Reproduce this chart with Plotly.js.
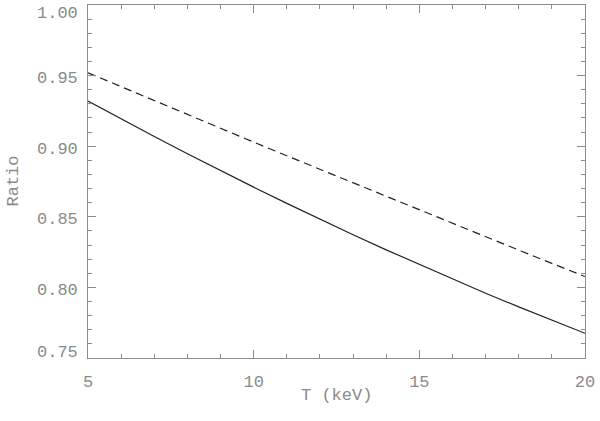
<!DOCTYPE html>
<html>
<head>
<meta charset="utf-8">
<script src="https://cdn.plot.ly/plotly-3.0.1.min.js"></script>
<style>
  html, body { margin: 0; padding: 0; background: #fff; }
  #plot { width: 600px; height: 421px; }
</style>
</head>
<body>
<div id="plot"></div>
<script>
// temperature grid (keV)
const T = [5, 6, 7, 8, 9, 10, 11, 12, 13, 14, 15, 16, 17, 18, 19, 20];

// solid curve
const ratioSolid = [0.932, 0.9193, 0.9069, 0.8947, 0.8827, 0.8710, 0.8595, 0.8483,
                    0.8373, 0.8266, 0.8162, 0.8059, 0.7959, 0.7862, 0.7767, 0.7675];

// dashed curve
const ratioDashed = [0.952, 0.9421, 0.9322, 0.9224, 0.9127, 0.9029, 0.8932, 0.8836,
                     0.8739, 0.8643, 0.8548, 0.8453, 0.8358, 0.8264, 0.8170, 0.8077];

const yTicks = [0.75, 0.80, 0.85, 0.90, 0.95, 1.00];
const yTickText = ['0.75', '0.80', '0.85', '0.90', '0.95', '1.00'];
const xTicks = [5, 10, 15, 20];
const xTickText = ['5', '10', '15', '20'];

const axisCol = '#8c8c8c';
const textCol = '#8a8a8a';
const tickFont = { family: 'Liberation Mono, DejaVu Sans Mono, monospace', size: 17, color: textCol };

const traces = [
  {
    x: T, y: ratioSolid,
    mode: 'lines',
    line: { color: '#222', width: 1.2 },
    hoverinfo: 'skip'
  },
  {
    x: T, y: ratioDashed,
    mode: 'lines',
    line: { color: '#222', width: 1.2, dash: '8px,5px' },
    hoverinfo: 'skip'
  }
];

// IDL-style y labels: sit a little below the tick, end labels pulled inward
const yLabels = yTicks.map((v, i) => {
  let shift = -3;
  if (i === 0) shift = 6;
  if (i === yTicks.length - 1) shift = -8;
  return {
    text: yTickText[i],
    xref: 'paper', yref: 'y',
    x: 0, y: v,
    xanchor: 'right', yanchor: 'middle',
    xshift: -8, yshift: shift,
    showarrow: false,
    font: tickFont
  };
});

const layout = {
  width: 600,
  height: 421,
  margin: { l: 88, r: 15, t: 5, b: 63 },
  paper_bgcolor: '#fff',
  plot_bgcolor: '#fff',
  showlegend: false,
  xaxis: {
    range: [5, 20],
    tickvals: xTicks,
    ticktext: xTickText,
    ticks: 'inside',
    ticklen: 8,
    tickcolor: axisCol,
    tickwidth: 1,
    ticklabelstandoff: 8,
    showline: true,
    linecolor: axisCol,
    linewidth: 1,
    mirror: 'allticks',
    showgrid: false,
    zeroline: false,
    tickfont: tickFont,
    minor: { dtick: 1, ticks: 'inside', ticklen: 4, tickcolor: axisCol, showgrid: false }
  },
  yaxis: {
    range: [0.75, 1.0],
    tickvals: yTicks,
    showticklabels: false,
    ticks: 'inside',
    ticklen: 8,
    tickcolor: axisCol,
    tickwidth: 1,
    showline: true,
    linecolor: axisCol,
    linewidth: 1,
    mirror: 'allticks',
    showgrid: false,
    zeroline: false,
    minor: { dtick: 0.01, tick0: 0.75, ticks: 'inside', ticklen: 4, tickcolor: axisCol, showgrid: false }
  },
  annotations: [
    ...yLabels,
    {
      text: 'Ratio',
      xref: 'paper', yref: 'paper',
      x: 0, y: 0.5,
      xanchor: 'center', yanchor: 'middle',
      xshift: -75, textangle: -90,
      showarrow: false,
      font: tickFont
    },
    {
      text: 'T (keV)',
      xref: 'paper', yref: 'paper',
      x: 0.5, y: -0.105,
      xanchor: 'center', yanchor: 'middle',
      showarrow: false,
      font: tickFont
    }
  ]
};

Plotly.newPlot('plot', traces, layout, { staticPlot: true, displayModeBar: false });
</script>
</body>
</html>
